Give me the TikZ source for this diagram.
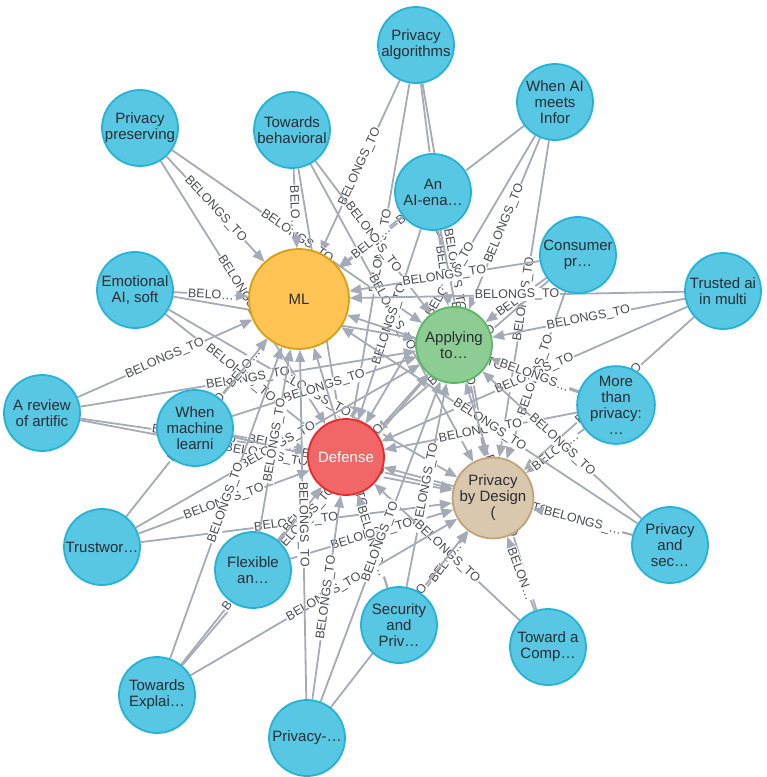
\documentclass[tikz,border=0pt]{standalone}
\usepackage{fontspec}
\setmainfont{Liberation Sans}
\usetikzlibrary{arrows}
\usetikzlibrary{backgrounds}

\definecolor{paperfill}{HTML}{57C7E3}
\definecolor{paperline}{HTML}{23B3D7}
\definecolor{mlfill}{HTML}{FFC454}
\definecolor{mlline}{HTML}{D7A013}
\definecolor{appfill}{HTML}{8DCC93}
\definecolor{appline}{HTML}{5DB665}
\definecolor{deffill}{HTML}{F16667}
\definecolor{defline}{HTML}{EB2728}
\definecolor{pbdfill}{HTML}{D9C8AE}
\definecolor{pbdline}{HTML}{C0A378}
\definecolor{relgray}{HTML}{A5ABB6}
\definecolor{nodetext}{HTML}{2A2C34}

\newcommand{\belongs}{BELONGS\_TO}
\newcommand{\belo}{BELO…}

\tikzset{
  paper/.style={circle, draw=paperline, fill=paperfill, line width=1.8pt, minimum size=76pt,
    inner sep=0pt, align=center, text=nodetext, font=\fontsize{15}{16}\selectfont},
  topic/.style={paper, minimum size=#1},
  rel/.style={->, >=triangle 45, draw=relgray, line width=1.8pt},
  rellabel/.style={sloped, fill=white, inner sep=0.8pt, text=nodetext!85,
    font=\fontsize{12.5}{12.5}\selectfont}
}

\begin{document}
\begin{tikzpicture}[x=1pt, y=-1pt]
    \useasboundingbox (0,0) rectangle (767,777);

    % topics
    \node[topic=100pt, draw=mlline, fill=mlfill] (ml) at (299,299) {ML};
    \node[topic=76pt, draw=appline, fill=appfill] (app) at (454,345) {Applying\\to…};
    \node[topic=76pt, draw=defline, fill=deffill, text=white] (def) at (346,457) {Defense};
    \node[topic=76pt, draw=pbdline, fill=pbdfill] (pbd) at (493,498) {Privacy\\by Design\\(};

    % papers
    \node[paper] (pa) at (416,45) {Privacy\\algorithms};
    \node[paper] (wai) at (555,102) {When AI\\meets\\Infor};
    \node[paper] (pp) at (140,128) {Privacy\\preserving};
    \node[paper] (tb) at (292,130) {Towards\\behavioral};
    \node[paper] (aai) at (433,192) {An\\AI-ena…};
    \node[paper] (cp) at (578,255) {Consumer\\pr…};
    \node[paper] (ta) at (723,291) {Trusted ai\\in multi};
    \node[paper] (eai) at (135,290) {Emotional\\AI, soft};
    \node[paper] (ar) at (42,413) {A review\\of artific};
    \node[paper] (wml) at (195,428) {When\\machine\\learni};
    \node[paper] (mtp) at (616,405) {More\\than\\privacy:\\…};
    \node[paper] (tw) at (102,547) {Trustwor…};
    \node[paper] (fa) at (253,570) {Flexible\\an…};
    \node[paper] (ps) at (670,545) {Privacy\\and\\sec…};
    \node[paper] (sp) at (399,625) {Security\\and\\Priv…};
    \node[paper] (tc) at (548,647) {Toward a\\Comp…};
    \node[paper] (te) at (157,695) {Towards\\Explai…};
    \node[paper] (pd) at (307,738) {Privacy-…};

    % relationships
    \begin{scope}[on background layer]
    \foreach \src/\dst/\lbl in {
        pa/ml/\belongs, pa/app/\belongs, pa/def/\belongs, pa/pbd/\belongs,
        wai/ml/\belongs, wai/app/\belongs, wai/def/\belongs, wai/pbd/\belongs,
        pp/ml/\belongs, pp/app/\belongs, pp/def/\belongs,
        tb/ml/\belo, tb/app/\belongs, tb/def/\belongs, tb/pbd/\belongs,
        aai/ml/\belo, aai/app/\belo, aai/def/\belongs, aai/pbd/\belongs,
        cp/ml/\belongs, cp/app/\belo, cp/def/\belongs, cp/pbd/\belongs,
        ta/ml/\belongs, ta/app/\belongs, ta/def/\belongs, ta/pbd/\belongs,
        eai/ml/\belo, eai/app/\belongs, eai/def/\belongs, eai/pbd/\belongs,
        ar/ml/\belongs, ar/app/\belongs, ar/def/\belongs, ar/pbd/\belongs,
        wml/ml/\belo, wml/app/\belongs, wml/def/\belo, wml/pbd/\belongs,
        mtp/ml/\belongs, mtp/app/BELONGS…, mtp/def/\belongs, mtp/pbd/BELON…,
        tw/ml/\belongs, tw/app/\belongs, tw/def/\belongs, tw/pbd/\belongs,
        fa/ml/\belongs, fa/app/\belongs, fa/def/\belo, fa/pbd/\belongs,
        ps/ml/\belongs, ps/app/\belongs, ps/def/\belongs, ps/pbd/BELONGS\_…,
        sp/ml/\belongs, sp/app/\belongs, sp/def/BELONGS…, sp/pbd/\belo,
        tc/app/\belongs, tc/def/\belongs, tc/pbd/BELON…,
        te/ml/\belongs, te/app/\belongs, te/def/\belongs, te/pbd/\belongs,
        pd/ml/\belongs, pd/app/\belongs, pd/def/\belongs, pd/pbd/\belongs}
      \draw[rel] (\src) -- node[rellabel] {\lbl} (\dst);
    \end{scope}

\end{tikzpicture}
\end{document}
